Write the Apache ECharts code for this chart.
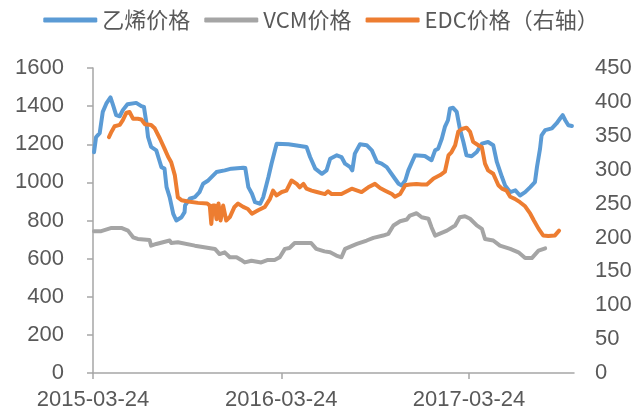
<!DOCTYPE html>
<html>
<head>
<meta charset="utf-8">
<script src="https://cdn.jsdelivr.net/npm/echarts@6/dist/echarts.min.js"></script>
<style>
html,body{margin:0;padding:0;background:#fff;}
#chart{width:642px;height:417px;}
</style>
</head>
<body>
<div id="chart"></div>
<script>
// x positions are day offsets from 2015-03-24
const tickDays = [0, 366, 731];
const tickLabels = ['2015-03-24', '2016-03-24', '2017-03-24'];
const xMaxDay = 935;

const seriesNames = ['乙烯价格', 'VCM价格', 'EDC价格（右轴）'];

const ethyleneDays = [2,6,13,19,26,34,39,45,52,58,67,84,94,99,104,107,113,123,128,133,139,143,149,156,162,172,178,179,188,198,207,214,224,240,256,269,292,296,302,309,315,325,331,341,347,357,380,393,415,422,432,445,454,461,474,483,490,500,504,509,519,532,542,552,561,571,587,594,600,607,613,623,626,645,658,665,671,678,684,690,694,700,707,710,713,720,726,736,746,756,768,778,785,795,801,811,821,830,840,850,859,863,869,872,879,892,901,908,913,918,924,931];
const ethyleneValues = [1158,1238,1258,1370,1414,1446,1405,1353,1347,1379,1410,1417,1400,1396,1309,1238,1186,1168,1124,1080,1072,975,923,835,800,817,844,879,914,923,949,993,1010,1054,1063,1072,1077,1075,975,940,896,888,923,1028,1098,1203,1200,1195,1186,1133,1072,1045,1063,1124,1142,1133,1098,1080,1063,1151,1200,1195,1168,1107,1098,1080,1019,993,984,1010,1063,1124,1142,1138,1116,1168,1177,1229,1291,1326,1388,1391,1370,1326,1283,1212,1142,1137,1159,1203,1212,1195,1107,1028,984,949,958,931,949,975,1001,1080,1177,1247,1274,1283,1309,1335,1353,1326,1300,1296];

const vcmDays = [2,16,36,55,68,78,87,110,113,123,136,149,152,165,198,237,246,256,266,279,288,295,308,327,340,353,363,373,382,392,424,434,450,461,473,483,490,513,532,545,564,574,584,597,610,616,629,639,652,658,665,688,704,713,723,733,746,756,762,778,791,811,827,840,853,866,879];
const vcmValues = [744,744,761,761,747,712,703,698,668,677,686,695,682,686,668,651,624,633,607,607,593,580,589,580,593,593,607,651,656,682,682,651,638,633,616,607,651,677,695,709,721,730,774,796,805,826,838,817,809,765,721,747,774,817,822,809,774,756,703,695,668,651,633,603,603,642,654];

const edcDays = [31,36,42,52,58,65,71,78,87,94,101,113,120,130,139,146,152,159,165,172,185,204,222,227,230,233,237,240,244,248,253,256,259,266,275,282,292,301,309,321,334,344,350,357,367,376,386,396,402,409,415,425,435,451,457,464,483,503,522,535,548,558,568,581,587,597,607,616,629,639,649,662,675,684,691,697,704,710,717,726,733,739,749,756,762,768,778,788,795,804,811,820,830,840,850,857,866,875,885,898,906];
const edcValues = [348,356,364,366,373,384,385,375,375,374,367,366,361,346,331,319,311,292,259,255,253,251,250,247,220,247,247,227,250,225,247,247,225,230,245,250,245,242,235,240,245,257,269,262,267,269,284,279,274,279,272,269,267,264,268,264,264,272,267,274,279,273,269,264,260,264,277,278,279,278,278,287,292,297,321,326,336,356,360,362,356,341,336,333,309,299,294,277,272,269,260,257,252,246,235,225,213,203,202,203,210];

function pairs(days, vals) { return days.map((d, i) => [d, vals[i]]); }

const textColor = '#595959';
const axisColor = '#A6A6A6';
const labelFont = 'Liberation Sans';

const chart = echarts.init(document.getElementById('chart'));
chart.setOption({
  animation: false,
  backgroundColor: '#fff',
  legend: {
    top: 4,
    left: 'center',
    icon: 'roundRect',
    itemWidth: 54,
    itemHeight: 5,
    itemGap: 14,
    textStyle: { color: textColor, fontSize: 22, fontFamily: 'Noto Sans CJK SC' },
    data: seriesNames
  },
  grid: { left: 93, right: 68, top: 68, bottom: 44, containLabel: false },
  xAxis: {
    type: 'value',
    min: 0,
    max: xMaxDay,
    splitLine: { show: false },
    axisLine: { show: true, lineStyle: { color: axisColor, width: 1.5 } },
    axisTick: { show: true, length: 6, customValues: tickDays, lineStyle: { color: axisColor, width: 1.5 } },
    axisLabel: {
      customValues: tickDays,
      margin: 16,
      color: textColor,
      fontSize: 22,
      fontFamily: labelFont,
      formatter: function (v) {
        const i = tickDays.indexOf(Math.round(v));
        return i >= 0 ? tickLabels[i] : '';
      }
    }
  },
  yAxis: [
    {
      type: 'value',
      min: 0, max: 1600, interval: 200,
      splitLine: { show: false },
      axisLine: { show: true, lineStyle: { color: axisColor, width: 1.5 } },
      axisTick: { show: true, length: 6, lineStyle: { color: axisColor, width: 1.5 } },
      axisLabel: { margin: 29, color: textColor, fontSize: 22, fontFamily: labelFont, formatter: function (v) { return String(v); } }
    },
    {
      type: 'value',
      min: 0, max: 450, interval: 50,
      position: 'right',
      splitLine: { show: false },
      axisLine: { show: false },
      axisTick: { show: false },
      axisLabel: { margin: 21, color: textColor, fontSize: 22, fontFamily: labelFont, formatter: function (v) { return String(v); } }
    }
  ],
  series: [
    {
      name: seriesNames[0], type: 'line', yAxisIndex: 0, showSymbol: false, symbol: 'none',
      color: '#5B9BD5',
      lineStyle: { width: 4, color: '#5B9BD5', cap: 'round', join: 'round' },
      data: pairs(ethyleneDays, ethyleneValues)
    },
    {
      name: seriesNames[1], type: 'line', yAxisIndex: 0, showSymbol: false, symbol: 'none',
      color: '#A5A5A5',
      lineStyle: { width: 4, color: '#A5A5A5', cap: 'round', join: 'round' },
      data: pairs(vcmDays, vcmValues)
    },
    {
      name: seriesNames[2], type: 'line', yAxisIndex: 1, showSymbol: false, symbol: 'none',
      color: '#ED7D31',
      lineStyle: { width: 4, color: '#ED7D31', cap: 'round', join: 'round' },
      data: pairs(edcDays, edcValues)
    }
  ]
});
</script>
</body>
</html>
